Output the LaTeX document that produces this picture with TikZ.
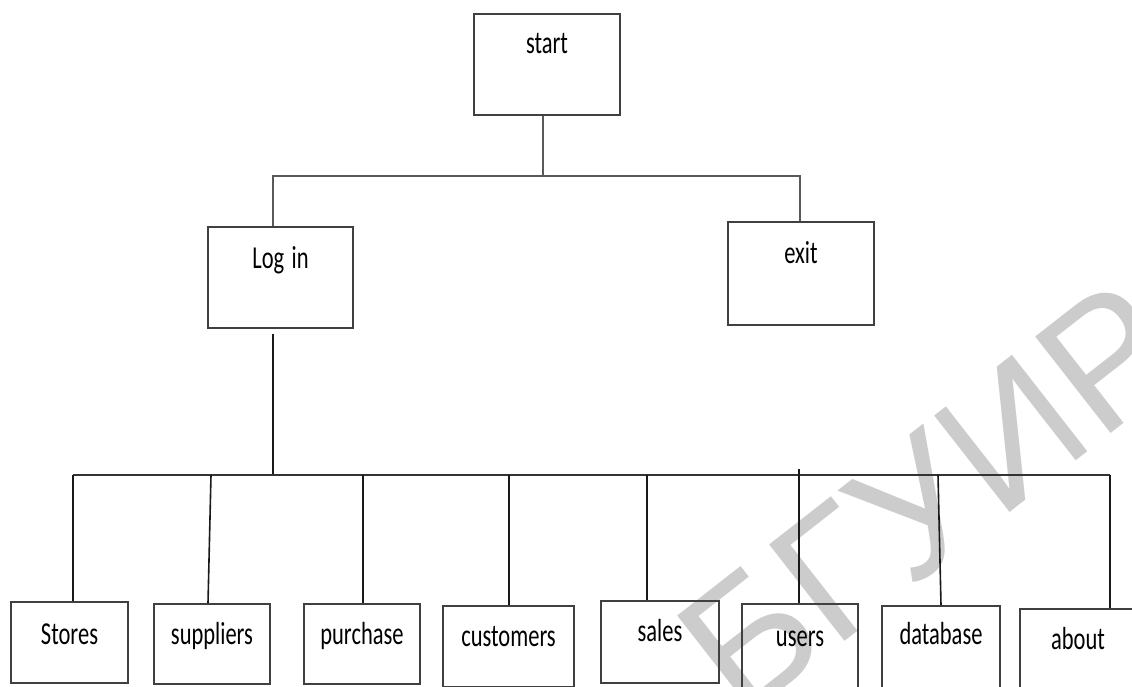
\documentclass[tikz,border=0pt]{standalone}
\usepackage{fontspec}
\setmainfont{Carlito}
\newfontfamily\wmfont{Liberation Sans}
\usepackage{graphicx}
\newcommand{\lbl}[1]{\scalebox{1}[1.42]{#1}}
\begin{document}
\begin{tikzpicture}[x=1pt,y=-1pt,
  boxnode/.style={draw=black!75,line width=2pt,inner sep=0pt,align=center,
    font=\fontsize{22.5}{26}\selectfont,anchor=north west},
  topline/.style={draw=black!65,line width=2.8pt},
  barline/.style={draw=black!80,line width=2.5pt},
  stemline/.style={draw=black!90,line width=1.6pt}]
\useasboundingbox (0,0) rectangle (1132,687);
\fill[white] (0,0) rectangle (1132,687);
% watermark
\node[font=\wmfont\fontsize{178}{180}\selectfont,text=black!20,rotate=38,inner sep=0pt,anchor=center] (wm) at (930,498) {БГУИР};
% boxes
\node[boxnode,text width=146pt,text height=40pt,text depth=61pt] (start) at (473,13) {\lbl{start}};
\node[boxnode,text width=145pt,text height=41pt,text depth=60pt] (login) at (207,226) {\lbl{Log in}};
\node[boxnode,text width=146pt,text height=41pt,text depth=62pt] (exit) at (727,221) {\lbl{exit}};
\node[boxnode,text width=117pt,text height=42pt,text depth=39pt] (stores) at (10,601) {\lbl{Stores}};
\node[boxnode,text width=116pt,text height=40pt,text depth=40pt] (suppliers) at (153,603) {\lbl{suppliers}};
\node[boxnode,text width=116pt,text height=40pt,text depth=40pt] (purchase) at (303,603) {\lbl{purchase}};
\node[boxnode,text width=131pt,text height=40pt,text depth=41pt] (customers) at (442,605) {\lbl{customers}};
\node[boxnode,text width=118pt,text height=40pt,text depth=42pt] (sales) at (600,600) {\lbl{sales}};
\node[boxnode,text width=116pt,text height=42pt,text depth=42pt] (users) at (741,603) {\lbl{users}};
\node[boxnode,text width=118pt,text height=38pt,text depth=44pt] (database) at (881,605) {\lbl{database}};
\node[boxnode,text width=116pt,text height=40pt,text depth=41pt] (about) at (1019,608) {\lbl{about}};
% top connectors
\coordinate (j0) at (543,176);
\coordinate (jl) at (273,176);
\coordinate (jr) at (800,176);
\draw[topline] (start.south -| j0) -- (j0);
\draw[topline] (jl |- login.north) -- (jl) -- (jr) -- (jr |- exit.north);
% login down
\coordinate (ls) at (273,334);
\coordinate (b0) at (273,475);
\draw[stemline] (ls) -- (b0);
% bottom bar
\coordinate (bl) at (73,475);
\coordinate (br) at (1110,475);
\draw[barline] (bl) -- (br);
% stems
\coordinate (s1) at (211,475); \coordinate (e1) at (208,603);
\coordinate (s2) at (363,475);
\coordinate (s3) at (509,475);
\coordinate (s4) at (647,475);
\coordinate (s5) at (799,469);
\coordinate (s6) at (938,475); \coordinate (e6) at (941,605);
\draw[stemline] (bl) -- (bl |- stores.north);
\draw[stemline] (s1) -- (e1 |- suppliers.north);
\draw[stemline] (s2) -- (s2 |- purchase.north);
\draw[stemline] (s3) -- (s3 |- customers.north);
\draw[stemline] (s4) -- (s4 |- sales.north);
\draw[stemline] (s5) -- (s5 |- users.north);
\draw[stemline] (s6) -- (e6 |- database.north);
\draw[stemline] (br) -- (br |- about.north);
\end{tikzpicture}
\end{document}
